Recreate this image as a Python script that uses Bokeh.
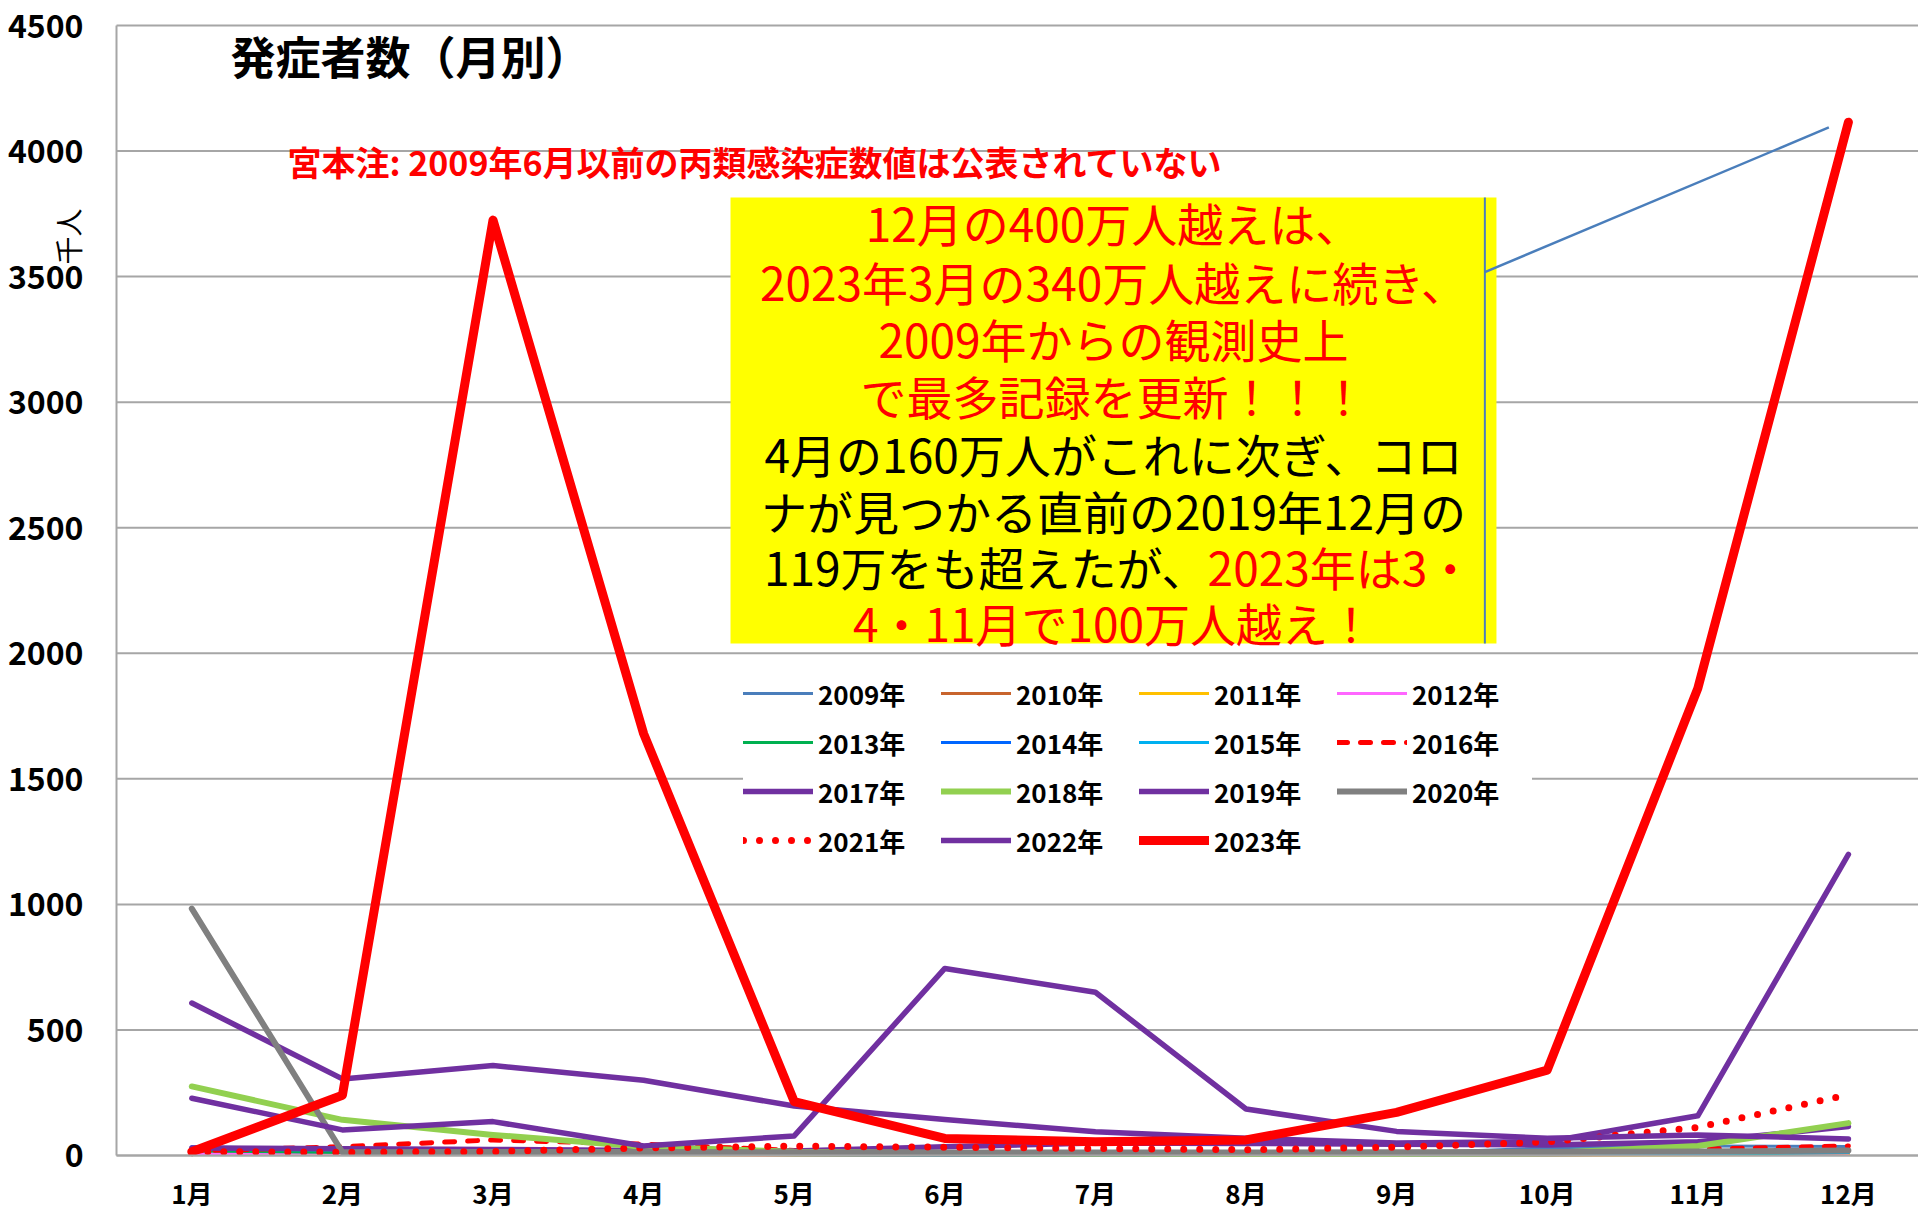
import math
from bokeh.plotting import figure
from bokeh.models import Range1d, Label, BoxAnnotation, Legend, LegendItem, FixedTicker
from bokeh.embed import file_html
from bokeh.resources import INLINE

nan = float("nan")

# ---- data (thousand persons) ----
months = list(range(1, 13))
month_labels = ["1月", "2月", "3月", "4月", "5月", "6月", "7月", "8月", "9月", "10月", "11月", "12月"]
y_ticks = [0, 500, 1000, 1500, 2000, 2500, 3000, 3500, 4000, 4500]

y2009 = [nan, nan, nan, nan, nan, 2, 3, 4, 8, 30, 38, 36]
y2010 = [15, 12, 8, 5, 3, 2, 2, 2, 2, 3, 4, 8]
y2011 = [12, 10, 6, 4, 2, 2, 1, 1, 1, 2, 3, 5]
y2012 = [8, 10, 9, 5, 3, 2, 3, 2, 2, 3, 5, 10]
y2013 = [18, 12, 8, 6, 3, 2, 2, 2, 2, 3, 6, 12]
y2014 = [35, 25, 15, 8, 4, 3, 3, 2, 3, 5, 10, 20]
y2015 = [25, 22, 18, 10, 6, 5, 6, 6, 5, 6, 8, 12]
y2016 = [18, 35, 62, 45, 20, 10, 8, 6, 8, 12, 25, 38]
y2017 = [30, 27, 24, 20, 18, 35, 50, 48, 45, 42, 55, 115]
y2018 = [275, 142, 82, 35, 15, 10, 8, 6, 6, 10, 38, 129]
y2019 = [607, 305, 358, 300, 197, 143, 95, 69, 50, 55, 158, 1199]
y2020 = [983, 13, 14, 14, 13, 12, 12, 12, 13, 14, 16, 20]
y2021 = [16, 13, 16, 30, 37, 33, 28, 23, 33, 54, 112, 242]
y2022 = [228, 102, 135, 38, 78, 745, 650, 185, 96, 69, 82, 66]
y2023 = [15, 240, 3725, 1680, 215, 68, 55, 62, 172, 340, 1860, 4115]

series = [
    ("2009年", y2009, "#4A7EBB", 3, "solid"),
    ("2010年", y2010, "#C8642D", 3, "solid"),
    ("2011年", y2011, "#FFC000", 3, "solid"),
    ("2012年", y2012, "#FF66FF", 3, "solid"),
    ("2013年", y2013, "#00B050", 3, "solid"),
    ("2014年", y2014, "#0066FF", 3, "solid"),
    ("2015年", y2015, "#00B0F0", 3, "solid"),
    ("2016年", y2016, "#FF0000", 5, "10 13"),
    ("2017年", y2017, "#7030A0", 5.5, "solid"),
    ("2018年", y2018, "#92D050", 6, "solid"),
    ("2019年", y2019, "#7030A0", 5.5, "solid"),
    ("2020年", y2020, "#808080", 6, "solid"),
    ("2021年", y2021, "#FF0000", 7, "0 16"),
    ("2022年", y2022, "#7030A0", 5.5, "solid"),
    ("2023年", y2023, "#FF0000", 9, "solid"),
]

FONT = "Noto Sans CJK JP"
X0, X1 = 0.5, 12.4654      # category area (y axis line at X0)
XS = -0.2703               # frame starts left of the axis to hold the tick labels
YS, YE = -238.94, 4599.56  # frame extends past 0 and 4500 to hold the axis labels

p = figure(width=1918, height=1215,
           x_range=Range1d(XS, X1), y_range=Range1d(YS, YE),
           output_backend="svg", toolbar_location=None,
           min_border_left=0, min_border_right=0, min_border_top=0, min_border_bottom=0)
p.outline_line_color = None
p.background_fill_color = "white"

# horizontal gridlines only over the plotting area
p.xgrid.grid_line_color = None
p.ygrid.grid_line_color = None
p.multi_line([[X0, X1] for _ in y_ticks], [[t, t] for t in y_ticks],
             line_color="#A6A6A6", line_width=2)

# axes (drawn at fixed positions inside the frame)
p.xaxis.ticker = FixedTicker(ticks=months)
p.xaxis.major_label_overrides = {m: lbl for m, lbl in zip(months, month_labels)}
p.xaxis.fixed_location = 0
p.xaxis.bounds = (X0, X1)
p.yaxis.ticker = FixedTicker(ticks=y_ticks)
p.yaxis.fixed_location = X0
p.yaxis.bounds = (0, 4500)
for ax in (p.xaxis, p.yaxis):
    ax.major_tick_line_color = None
    ax.minor_tick_line_color = None
    ax.major_tick_out = 0
    ax.major_tick_in = 0
    ax.minor_tick_out = 0
    ax.axis_line_color = "#A6A6A6"
    ax.axis_line_width = 2
    ax.major_label_text_font = FONT
    ax.major_label_text_font_style = "bold"
    ax.major_label_text_color = "black"
p.xaxis.major_label_text_font_size = "26px"
p.xaxis.major_label_standoff = 19
p.yaxis.major_label_text_font_size = "32px"
p.yaxis.major_label_standoff = 33

items = []
for name, ys, color, w, dash in series:
    r = p.line(months, ys, line_color=color, line_width=w, line_dash=dash,
               line_cap="round", line_join="round")
    items.append(LegendItem(label=name, renderers=[r]))

# yellow call-out box
box = BoxAnnotation(left=4.577, right=9.663, top=3815, bottom=2039,
                    fill_color="#FFFF00", fill_alpha=1, line_color=None)
p.add_layout(box)

# call-out leader
lv = p.line([9.586, 9.586], [3815, 2039], line_color="#4A7EBB", line_width=2)
lv.level = "overlay"
ll = p.line([9.586, 11.870], [3518, 4094], line_color="#4A7EBB", line_width=2.5)
ll.level = "overlay"

# texts
p.add_layout(Label(x=1.257, y=4380, text="発症者数（月別）", text_font=FONT,
                   text_font_size="45px", text_font_style="bold", text_color="black",
                   text_align="left", text_baseline="middle"))
p.add_layout(Label(x=0.181, y=3660, text="千人", angle=math.pi / 2, text_font=FONT,
                   text_font_size="28px", text_color="black",
                   text_align="center", text_baseline="middle"))
p.add_layout(Label(x=1.635, y=3958, text="宮本注: 2009年6月以前の丙類感染症数値は公表されていない",
                   text_font=FONT, text_font_size="34px", text_font_style="bold",
                   text_color="#FF0000", text_align="left", text_baseline="middle"))

box_lines = [
    ("12月の400万人越えは、", "#FF0000", 3717),
    ("2023年3月の340万人越えに続き、", "#FF0000", 3483),
    ("2009年からの観測史上", "#FF0000", 3254),
    ("で最多記録を更新！！！", "#FF0000", 3030),
    ("4月の160万人がこれに次ぎ、コロ", "black", 2796),
    ("ナが見つかる直前の2019年12月の", "black", 2571),
    ("4・11月で100万人越え！", "#FF0000", 2123),
]
for txt, col, yy in box_lines:
    p.add_layout(Label(x=7.12, y=yy, text=txt, text_font=FONT, text_font_size="46px",
                       text_color=col, text_align="center", text_baseline="middle"))
p.add_layout(Label(x=7.745, y=2347, text="119万をも超えたが、", text_font=FONT,
                   text_font_size="46px", text_color="black",
                   text_align="right", text_baseline="middle"))
p.add_layout(Label(x=7.745, y=2347, text="2023年は3・", text_font=FONT,
                   text_font_size="46px", text_color="#FF0000",
                   text_align="left", text_baseline="middle"))

legend = Legend(items=items, orientation="horizontal", ncols=4,
                location=(743, 352), glyph_width=70, glyph_height=46,
                label_height=46, label_width=120, label_standoff=5, spacing=3,
                padding=10, margin=0, border_line_color=None,
                background_fill_color="white", background_fill_alpha=1,
                label_text_font=FONT, label_text_font_size="26px",
                label_text_font_style="bold", label_text_color="black")
p.add_layout(legend)

open("out.html", "w").write(file_html(p, INLINE))
